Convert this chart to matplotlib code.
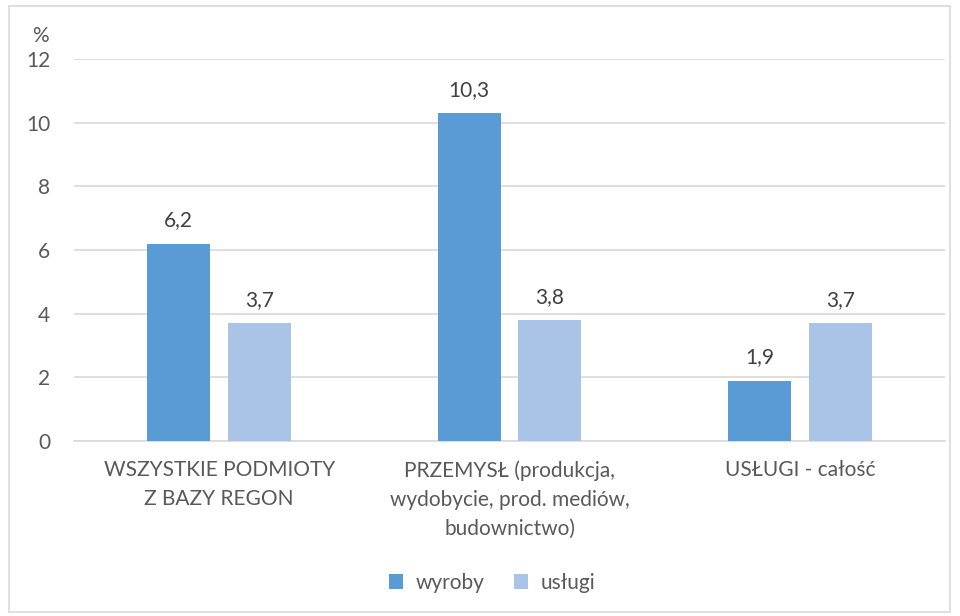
import numpy as np
import matplotlib
matplotlib.use("Agg")
import matplotlib.pyplot as plt
from matplotlib.patches import Rectangle

plt.rcParams['font.family'] = ['Lato', 'DejaVu Sans']

categories = ["WSZYSTKIE PODMIOTY\nZ BAZY REGON",
              "PRZEMYSŁ (produkcja,\nwydobycie, prod. mediów,\nbudownictwo)",
              "USŁUGI - całość"]
wyroby = [6.2, 10.3, 1.9]
uslugi = [3.7, 3.8, 3.7]
series_names = ["wyroby", "usługi"]

c_dark = '#5B9BD5'
c_light = '#A9C4E7'
txt = '#595959'
fs = 15

fig = plt.figure(figsize=(9.6, 6.16), dpi=100)
ax = fig.add_axes([74/960, 1 - 441/616, (945 - 74)/960, (441 - 59)/616])

fig.patches.append(Rectangle((9/960, 4/616), 941/960, 606/616, transform=fig.transFigure,
                             fill=False, edgecolor='#D9D9D9', linewidth=1.2))

x = np.arange(len(categories))
w = 0.217
off = 0.139
b1 = ax.bar(x - off, wyroby, w, color=c_dark, label=series_names[0], zorder=3)
b2 = ax.bar(x + off, uslugi, w, color=c_light, label=series_names[1], zorder=3)

for bars, vals in ((b1, wyroby), (b2, uslugi)):
    for r, v in zip(bars, vals):
        ax.text(r.get_x() + r.get_width() / 2, v + 0.42, f"{v:.1f}".replace('.', ','),
                ha='center', va='bottom', fontsize=fs, color='#404040')

ax.set_xlim(-0.5, 2.5)
ax.set_ylim(0, 12)
ax.set_yticks(range(0, 13, 2))
ax.yaxis.grid(True, color='#D9D9D9', linewidth=1.2, zorder=0)
ax.set_axisbelow(True)
for s in ('top', 'right', 'left'):
    ax.spines[s].set_visible(False)
ax.spines['bottom'].set_color('#D9D9D9')
ax.spines['bottom'].set_linewidth(1.2)
ax.tick_params(axis='both', length=0, labelsize=fs, colors=txt)
ax.tick_params(axis='y', pad=17)
ax.tick_params(axis='x', pad=14)
ax.set_xticks(x)
ax.set_xticklabels(categories, linespacing=1.55)

ax.text(-0.038, 1.06, "%", transform=ax.transAxes, ha='center', va='center',
        fontsize=fs, color=txt)

fig.legend(loc='center', bbox_to_anchor=(492/960, 1 - 583/616), ncol=2, frameon=False,
           fontsize=fs, handlelength=0.7, handleheight=0.7, handletextpad=0.6,
           columnspacing=1.4, labelcolor=txt)

fig.savefig("out.png", dpi=100)
